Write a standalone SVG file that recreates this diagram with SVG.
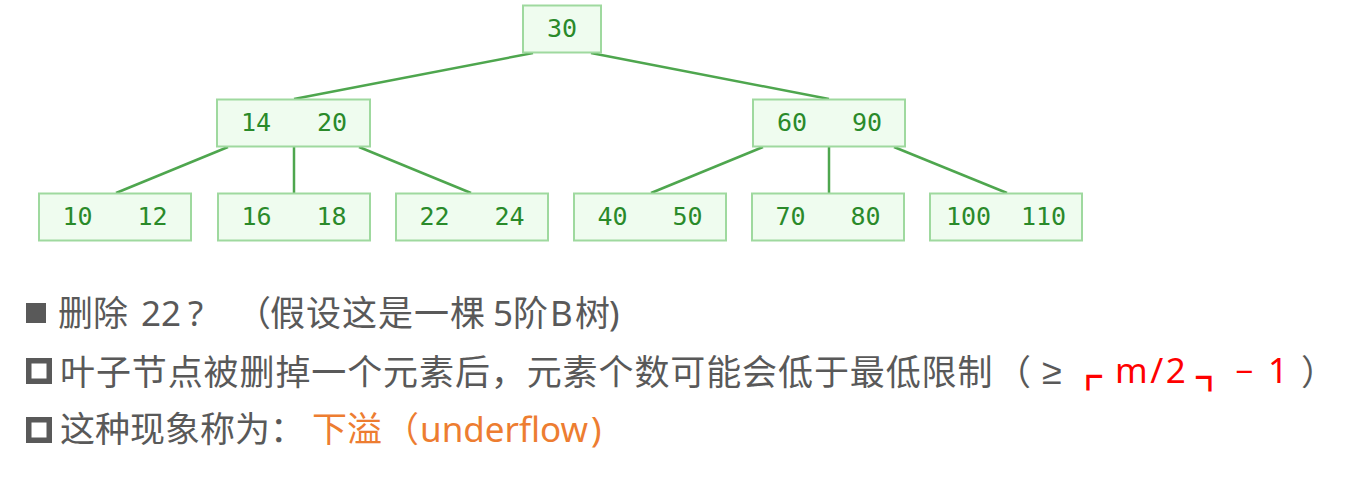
<svg xmlns="http://www.w3.org/2000/svg" width="1361" height="478" viewBox="0 0 1361 478">
<style>
.box{fill:#effcef;stroke:#9fd99f;stroke-width:2}
.k{font-family:"DejaVu Sans Mono","Liberation Mono",monospace;font-size:25px;fill:#2a8a2a;text-anchor:middle}
.edge{stroke:#4ea64e;stroke-width:2.5;fill:none}
.t{font-family:"Noto Sans","Noto Sans CJK SC",sans-serif;font-size:35px;fill:#595959}
.cj{font-family:"Noto Sans CJK SC",sans-serif}
.red{fill:#ff0000}
.org{fill:#ed7d31}
.bul{fill:#595959}
.hol{fill:none;stroke:#595959;stroke-width:5.5}
.corner{font-family:"Noto Sans CJK SC",sans-serif;font-size:26px;fill:#ff0000;stroke:#ff0000;stroke-width:2.2}
</style>
<rect width="1361" height="478" fill="#ffffff"/>
<g id="connectors">
<line class="edge" x1="533" y1="53" x2="294" y2="99"/>
<line class="edge" x1="591" y1="53" x2="829" y2="99"/>
<line class="edge" x1="228" y1="147" x2="116" y2="193"/>
<line class="edge" x1="294" y1="147" x2="294" y2="193"/>
<line class="edge" x1="359" y1="147" x2="471" y2="193"/>
<line class="edge" x1="763" y1="147" x2="651" y2="193"/>
<line class="edge" x1="829" y1="147" x2="829" y2="193"/>
<line class="edge" x1="894" y1="147" x2="1007" y2="193"/>
</g>
<g id="n30"><rect class="box" x="523" y="5.5" width="78" height="47"/><text class="k" x="562" y="37">30</text></g>
<g id="n14_20"><rect class="box" x="217" y="99.5" width="153" height="47"/><text class="k" x="256" y="131">14</text><text class="k" x="332" y="131">20</text></g>
<g id="n60_90"><rect class="box" x="753" y="99.5" width="152" height="47"/><text class="k" x="792" y="131">60</text><text class="k" x="867" y="131">90</text></g>
<g id="n10_12"><rect class="box" x="39" y="193.5" width="152" height="47"/><text class="k" x="77.5" y="225">10</text><text class="k" x="152.5" y="225">12</text></g>
<g id="n16_18"><rect class="box" x="218" y="193.5" width="152" height="47"/><text class="k" x="256.5" y="225">16</text><text class="k" x="331.5" y="225">18</text></g>
<g id="n22_24"><rect class="box" x="396" y="193.5" width="152" height="47"/><text class="k" x="434.5" y="225">22</text><text class="k" x="509.5" y="225">24</text></g>
<g id="n40_50"><rect class="box" x="574" y="193.5" width="152" height="47"/><text class="k" x="612.5" y="225">40</text><text class="k" x="687.5" y="225">50</text></g>
<g id="n70_80"><rect class="box" x="752" y="193.5" width="152" height="47"/><text class="k" x="790.5" y="225">70</text><text class="k" x="865.5" y="225">80</text></g>
<g id="n100_110"><rect class="box" x="930" y="193.5" width="152" height="47"/><text class="k" x="968.5" y="225">100</text><text class="k" x="1043.5" y="225">110</text></g>
<g id="text">
<rect class="bul" x="26" y="303" width="20" height="20"/>
<text class="t" y="326"><tspan x="58">删除</tspan><tspan x="141">22</tspan><tspan x="188">?</tspan><tspan x="236" class="cj">（</tspan><tspan x="270" letter-spacing="1">假设这是一棵</tspan><tspan x="493">5</tspan><tspan x="513">阶</tspan><tspan x="550">B</tspan><tspan x="575">树</tspan><tspan x="609">)</tspan></text>
<rect class="hol" x="28.75" y="360.75" width="20.5" height="20.5"/>
<text class="t" y="385"><tspan x="60" letter-spacing="0.9">叶子节点被删掉一个元素后，元素个数可能会低于最低限制</tspan><tspan x="996" class="cj">（</tspan><tspan x="1301" class="cj">）</tspan></text>
<text x="1042" y="384" font-family="Liberation Sans,sans-serif" font-size="36" fill="#595959">≥</text>
<text class="corner" x="1075" y="386">┌</text>
<text class="corner" x="1197" y="387">┐</text>
<text class="t red" y="383" font-size="31"><tspan x="1115" letter-spacing="2.5">m/2</tspan><tspan x="1235" font-size="32">−</tspan><tspan x="1268">1</tspan></text>
<rect class="hol" x="28.75" y="419.75" width="20.5" height="20.5"/>
<text class="t" y="442"><tspan x="60">这种现象称为：</tspan><tspan x="312" class="org">下溢</tspan><tspan x="384" class="org cj">（</tspan><tspan x="420" class="org">underflow</tspan><tspan x="591" class="org">)</tspan></text>
</g>
</svg>
